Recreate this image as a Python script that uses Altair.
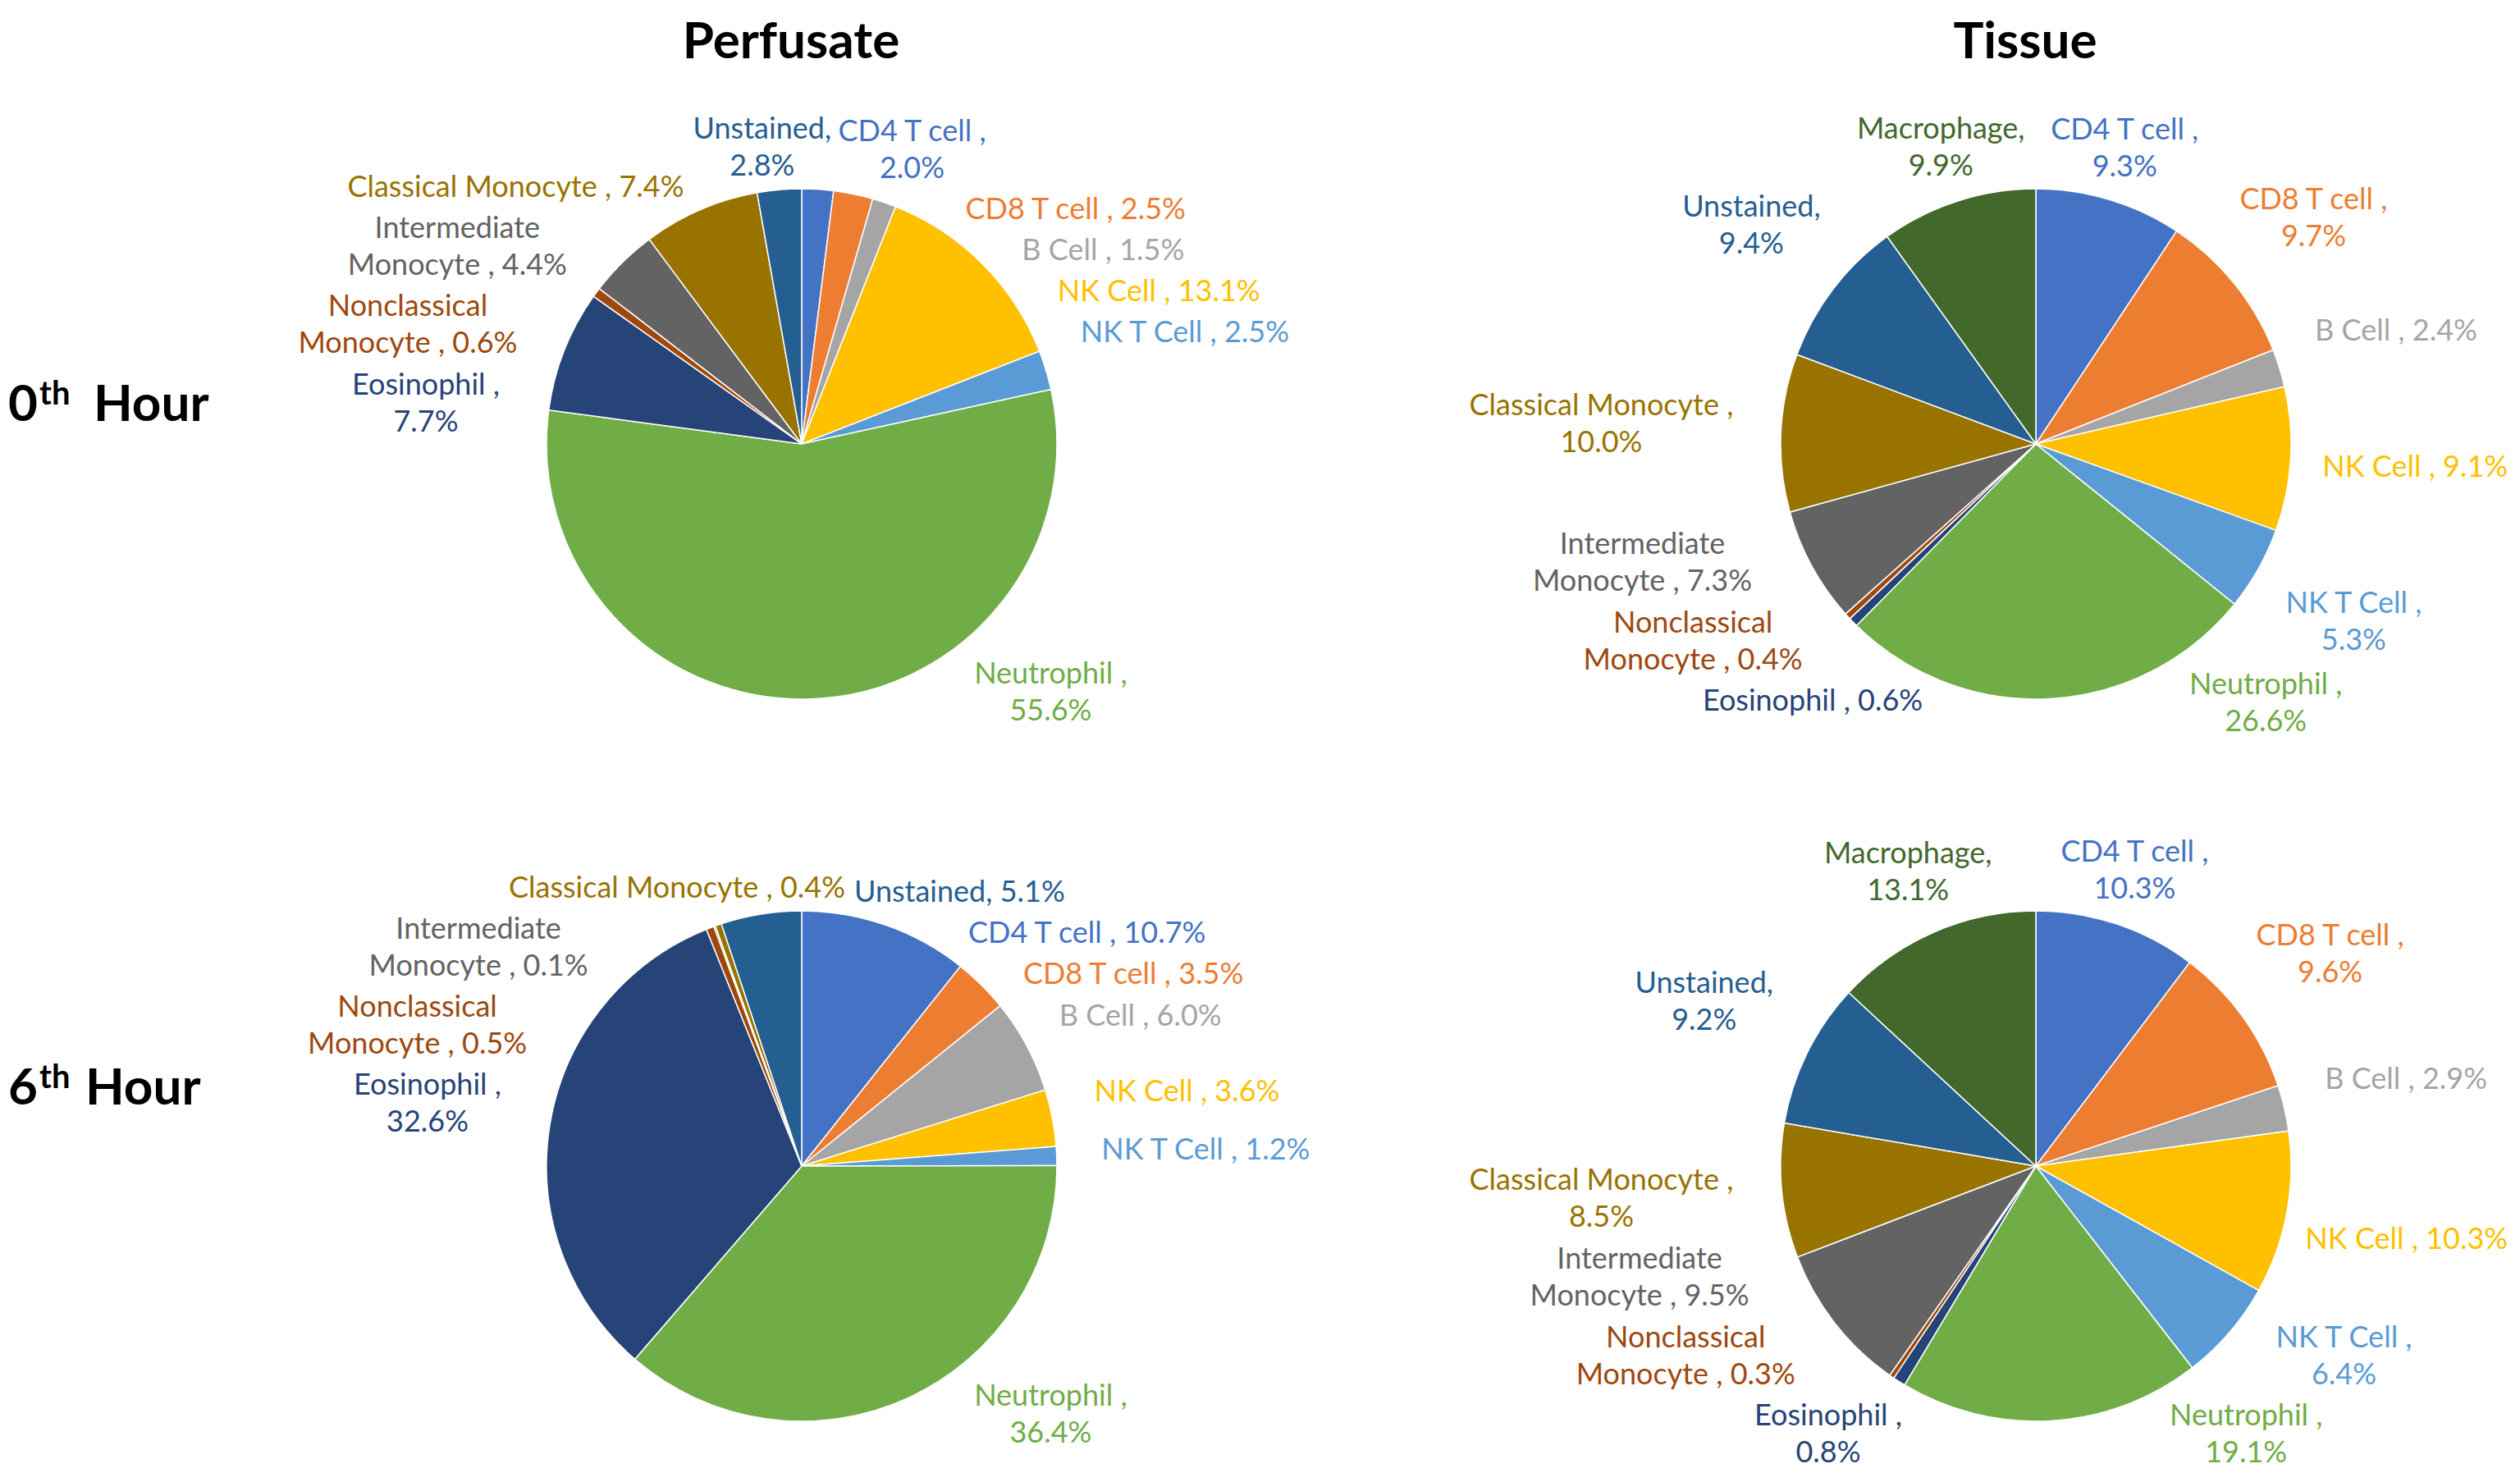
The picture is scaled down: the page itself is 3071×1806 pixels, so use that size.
import math
import altair as alt
import pandas as pd

# ---------------- data ----------------
cells = ["CD4 T cell", "CD8 T cell", "B Cell", "NK Cell", "NK T Cell", "Neutrophil",
         "Eosinophil", "Nonclassical Monocyte", "Intermediate Monocyte",
         "Classical  Monocyte", "Unstained", "Macrophage"]
colors = ["#4472C4", "#ED7D31", "#A5A5A5", "#FFC000", "#5B9BD5", "#70AD47",
          "#264478", "#9E480E", "#636363", "#997300", "#255E91", "#43682B"]

columns = ["Perfusate", "Tissue"]
rows = ["0th Hour", "6th Hour"]
row_numbers = ["0", "6"]

perfusate_0h = [2.0, 2.5, 1.5, 13.1, 2.5, 55.6, 7.7, 0.6, 4.4, 7.4, 2.8]
tissue_0h = [9.3, 9.7, 2.4, 9.1, 5.3, 26.6, 0.6, 0.4, 7.3, 10.0, 9.4, 9.9]
perfusate_6h = [10.7, 3.5, 6.0, 3.6, 1.2, 36.4, 32.6, 0.5, 0.1, 0.4, 5.1]
tissue_6h = [10.3, 9.6, 2.9, 10.3, 6.4, 19.1, 0.8, 0.3, 9.5, 8.5, 9.2, 13.1]

# label line style: 0 = one line, 1 = value on second line, 2 = name split over two lines
breaks_p0 = [1, 0, 0, 0, 0, 1, 1, 2, 2, 0, 1]
breaks_t0 = [1, 1, 0, 0, 1, 1, 0, 2, 2, 1, 1, 1]
breaks_p6 = [0, 0, 0, 0, 0, 1, 1, 2, 2, 0, 0]
breaks_t6 = [1, 1, 0, 0, 1, 1, 1, 2, 2, 1, 1, 1]

panels = [
    ("Perfusate", "0th Hour", perfusate_0h, breaks_p0),
    ("Tissue", "0th Hour", tissue_0h, breaks_t0),
    ("Perfusate", "6th Hour", perfusate_6h, breaks_p6),
    ("Tissue", "6th Hour", tissue_6h, breaks_t6),
]

# ---------------- layout constants ----------------
W, H = 3055, 1790
COL_X = [969, 2473]
ROW_Y = [533, 1413]
R = 311          # pie radius (px)
GAPX = 58        # horizontal clearance between pie and labels
GAPY = 8         # vertical clearance between pie and labels
PAD = 12         # min gap between label boxes
FS = 36
LH = 45
TWO_PI = 2 * math.pi

CW = {' ': 0.19, ',': 0.22, '.': 0.22, '%': 0.84, 'i': 0.24, 'l': 0.24, 'j': 0.24,
      't': 0.35, 'r': 0.36, 'f': 0.32, 'm': 0.84, 's': 0.41, 'c': 0.47, 'I': 0.28,
      'T': 0.56, 'M': 0.88, 'e': 0.53, 'a': 0.5, 'o': 0.58, 'n': 0.56, 'u': 0.56,
      'h': 0.56, 'p': 0.57, 'd': 0.57, 'y': 0.5, 'g': 0.53, 'C': 0.67, 'D': 0.74,
      'N': 0.76, 'K': 0.65, 'B': 0.64, 'E': 0.56, 'U': 0.72}


def str_w(s, fs):
    w = 0.0
    for ch in s:
        if ch in CW:
            w += CW[ch]
        elif ch.isupper():
            w += 0.66
        elif ch.isdigit():
            w += 0.58
        else:
            w += 0.52
    return w * fs


def make_label(name, value, mode):
    sep = "," if name in ("Unstained", "Macrophage") else " ,"
    val = f"{value:.1f}%"
    if mode == 0:
        return f"{name}{sep} {val}"
    if mode == 1:
        return f"{name}{sep}\n{val}"
    first, rest = name.split(" ", 1)
    return f"{first}\n{rest}{sep} {val}"


def box_center(a, w, h, max_right):
    ux, uy = math.sin(a), -math.cos(a)
    lo, hi = 0.0, 3000.0
    for _ in range(40):
        d = (lo + hi) / 2
        bx, by = d * ux, d * uy
        ex = max(abs(bx) - w / 2, 0.0) / (R + GAPX)
        ey = max(abs(by) - h / 2, 0.0) / (R + GAPY)
        if math.hypot(ex, ey) >= 1.0:
            hi = d
        else:
            lo = d
    bx, by = hi * ux, hi * uy
    bx = min(bx, max_right - w / 2)
    return bx, by


def layout(values, texts, max_down, max_right):
    tot = sum(values)
    acc = 0.0
    items = []
    for v, t in zip(values, texts):
        a0 = TWO_PI * acc / tot
        a1 = TWO_PI * (acc + v) / tot
        acc += v
        mid = (a0 + a1) / 2
        span = a1 - a0
        if abs(mid - math.pi) < math.pi / 4 and span > math.pi / 6:
            target = 0.75 * math.pi if mid < math.pi else 1.25 * math.pi
            mid = min(max(target, a0 + 0.1 * span), a1 - 0.1 * span)
        lines = t.split("\n")
        w = max(str_w(l, FS) for l in lines)
        h = (len(lines) - 1) * LH + FS * 1.05
        items.append([mid, w, h, len(lines)])
    n = len(items)
    step = 0.003

    def push(k, delta):
        a = items[k][0] % TWO_PI
        if abs(a - math.pi) < 0.6 * math.pi and abs((a + delta) - math.pi) < abs(a - math.pi):
            delta *= 0.3   # labels in the lower part move reluctantly towards the bottom
        items[k][0] += delta

    for _ in range(6000):
        cs = [box_center(a, w, h, max_right) for a, w, h, _ in items]
        moved = False
        for i in range(n):
            if cs[i][1] + items[i][2] / 2 > max_down:
                if (items[i][0] % TWO_PI) < math.pi:
                    items[i][0] -= step
                else:
                    items[i][0] += step
                moved = True
            for j in range(i + 1, n):
                xi, yi = cs[i]
                xj, yj = cs[j]
                if (abs(xi - xj) < (items[i][1] + items[j][1]) / 2 + PAD and
                        abs(yi - yj) < (items[i][2] + items[j][2]) / 2 + PAD):
                    diff = (items[j][0] - items[i][0]) % TWO_PI
                    if diff < math.pi:
                        push(i, -step)
                        push(j, step)
                    else:
                        push(i, step)
                        push(j, -step)
                    moved = True
        if not moved:
            break
    out = []
    for a, w, h, nl in items:
        bx, by = box_center(a, w, h, max_right)
        # text lines flow downward from the anchor: anchor = first line centre
        ax, ay = bx, by - (nl - 1) * LH / 2
        ang = math.atan2(ax, -ay) % TWO_PI
        out.append((ang / TWO_PI, math.hypot(ax, ay)))
    return out


slice_rows = []
label_rows = []
for col, row, vals, brk in panels:
    names = cells[:len(vals)]
    texts = [make_label(nm, v, m) for nm, v, m in zip(names, vals, brk)]
    cx = COL_X[columns.index(col)]
    cy = ROW_Y[rows.index(row)]
    pos = layout(vals, texts, H - cy - 8, W - cx - 10)
    for i, (nm, v, t, (lt, lr)) in enumerate(zip(names, vals, texts, pos)):
        slice_rows.append({"col": col, "row": row, "cell": nm, "value": v, "idx": i})
        label_rows.append({"col": col, "row": row, "cell": nm, "label": t, "lt": lt, "lr": lr})

slices_df = pd.DataFrame(slice_rows)
labels_df = pd.DataFrame(label_rows)
titles_df = pd.DataFrame({"col": columns})
rowlab_df = pd.DataFrame({"row": rows, "num": row_numbers, "sup": ["th", "th"], "word": ["Hour", "Hour"]})

# ---------------- encodings ----------------
x_enc = alt.X("col:N", scale=alt.Scale(type="point", domain=columns, range=COL_X, padding=0), axis=None)
y_enc = alt.Y("row:N", scale=alt.Scale(type="point", domain=rows, range=ROW_Y, padding=0), axis=None)
color_enc = alt.Color("cell:N", scale=alt.Scale(domain=cells, range=colors), legend=None)
theta_scale = alt.Scale(domain=[0, 1])

arcs = alt.Chart(slices_df).transform_stack(
    stack="value", groupby=["col", "row"], as_=["v0", "v1"], offset="normalize",
    sort=[alt.SortField("idx", order="ascending")]
).mark_arc(outerRadius=R, stroke="white", strokeWidth=1.5).encode(
    x=x_enc, y=y_enc,
    theta=alt.Theta("v0:Q", stack=None, scale=theta_scale),
    theta2="v1:Q",
    color=color_enc,
)

labels = alt.Chart(labels_df).mark_text(
    font="Lato", fontSize=FS, lineBreak="\n", lineHeight=LH, align="center", baseline="middle"
).encode(
    x=x_enc, y=y_enc,
    theta=alt.Theta("lt:Q", stack=None, scale=theta_scale),
    radius=alt.Radius("lr:Q", scale=None),
    text="label:N",
    color=color_enc,
)

TFS = 62
titles = alt.Chart(titles_df).mark_text(
    font="Lato", fontSize=TFS, fontWeight="bold", baseline="alphabetic", align="center",
    dx=-13, color="black"
).encode(x=x_enc, y=alt.value(63), text="col:N")

row_layers = []
for r, dy0, (xn, xs, xw) in [(rows[0], -28, (38, 40, 106)), (rows[1], -75, (38, 40, 96))]:
    base = alt.Chart(rowlab_df).transform_filter(alt.datum.row == r)
    row_layers.append(base.mark_text(font="Lato", fontSize=TFS, fontWeight="bold", align="right",
                                     baseline="alphabetic", dy=dy0, color="black")
                      .encode(x=alt.value(xn), y=y_enc, text="num:N"))
    row_layers.append(base.mark_text(font="Lato", fontSize=40, fontWeight="bold", align="left",
                                     baseline="alphabetic", dy=dy0 - 20, color="black")
                      .encode(x=alt.value(xs), y=y_enc, text="sup:N"))
    row_layers.append(base.mark_text(font="Lato", fontSize=TFS, fontWeight="bold", align="left",
                                     baseline="alphabetic", dy=dy0, color="black")
                      .encode(x=alt.value(xw), y=y_enc, text="word:N"))

chart = alt.layer(arcs, labels, titles, *row_layers).properties(
    width=W, height=H, autosize="none", padding=0, background="white"
).configure_view(strokeWidth=0)

chart.save("out.html", embed_options={"renderer": "svg", "actions": False})
